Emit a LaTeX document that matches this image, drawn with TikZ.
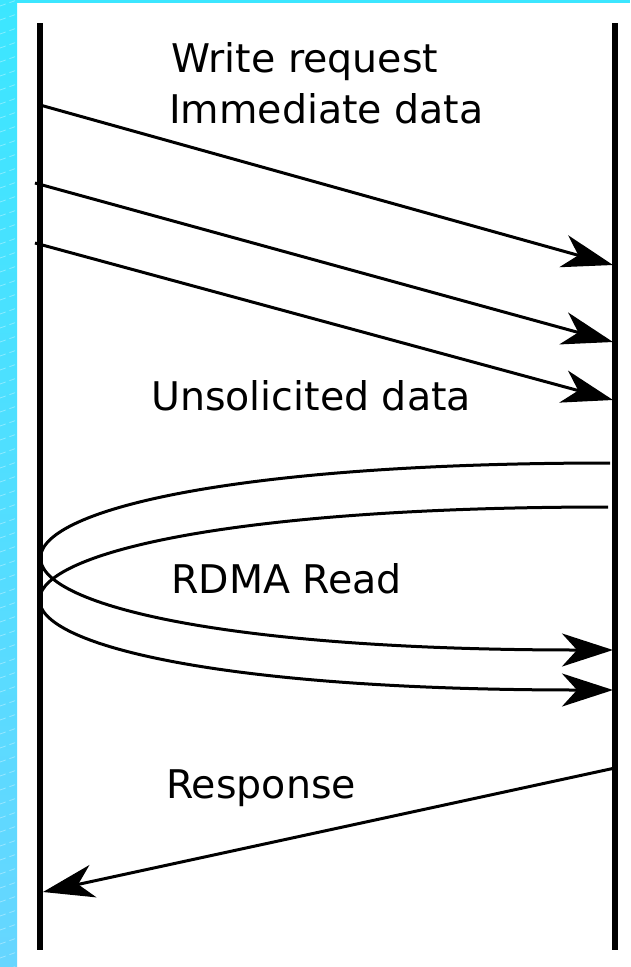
\documentclass[tikz,border=0pt]{standalone}
\usepackage{fontspec}
\setmainfont{DejaVu Sans}
\usetikzlibrary{arrows.meta}

\definecolor{frametop}{HTML}{3CE6FF}
\definecolor{framebot}{HTML}{66D6FF}

\begin{document}
\begin{tikzpicture}[x=1pt,y=-1pt,
  lifeline/.style={line width=6pt},
  msg/.style={line width=3pt,
    -{Stealth[length=51pt,width=33pt,inset=15pt]}},
  lbl/.style={anchor=base west, inner sep=0pt,
    font=\fontsize{39.5}{47}\selectfont}]
\useasboundingbox (0,0) rectangle (630,967);
\fill[white] (0,0) rectangle (630,967);

% cyan frame on the left and top edges
\shade[top color=frametop, bottom color=framebot] (0,0) rectangle (17,967);
\fill[frametop] (0,0) rectangle (630,3);
\begin{scope}
  \clip (0,0) rectangle (17,967);
  \foreach \k in {0,...,70}
    \draw[white, opacity=0.35, line width=0.8pt, dash pattern=on 6pt off 4pt]
      (0,{\k*14+6}) -- (17,{\k*14});
\end{scope}

% lifelines
\coordinate (Ltop) at (40,23);
\coordinate (Lbot) at (40,950);
\coordinate (Rtop) at (615,23);
\coordinate (Rbot) at (615,950);
\draw[lifeline] (Ltop) -- (Lbot);
\draw[lifeline] (Rtop) -- (Rbot);

% write request, immediate and unsolicited data
\coordinate (w0) at (40,105);  \coordinate (w1) at (613,265);
\coordinate (u0) at (35,183);  \coordinate (u1) at (613,342);
\coordinate (v0) at (35,243);  \coordinate (v1) at (613,400);
\draw[msg] (w0) -- (w1);
\draw[msg] (u0) -- (u1);
\draw[msg] (v0) -- (v1);

% RDMA read round trips
\coordinate (r0) at (610,463); \coordinate (r1) at (613,650);
\coordinate (s0) at (608,507); \coordinate (s1) at (613,690);
\draw[msg] (r0) .. controls (-144,463) and (-144,650) .. (r1);
\draw[msg] (s0) .. controls (-145,507) and (-145,690) .. (s1);

% response
\coordinate (p0) at (615,768); \coordinate (p1) at (43,892);
\draw[msg] (p0) -- (p1);

% labels
\node[lbl] (t1) at (171,72)  {Write request};
\node[lbl] (t2) at (169,123) {Immediate data};
\node[lbl] (t3) at (151,410) {Unsolicited data};
\node[lbl] (t4) at (171,593) {RDMA Read};
\node[lbl] (t5) at (166,798) {Response};
\end{tikzpicture}
\end{document}
